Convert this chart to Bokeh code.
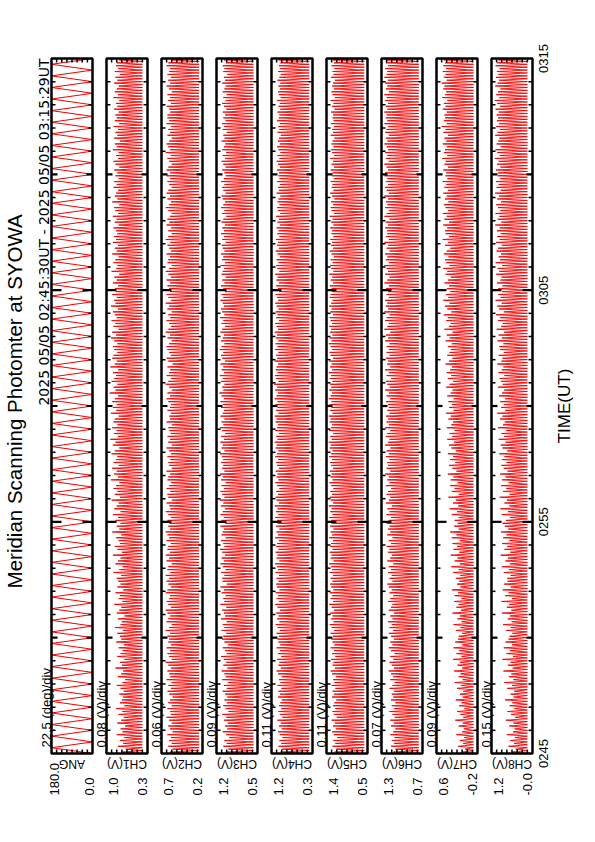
import numpy as np
from bokeh.plotting import figure
from bokeh.models import Range1d
from bokeh.core.properties import value
from bokeh.embed import file_html
from bokeh.resources import INLINE

# ---------------- data ----------------
TITLE = "Meridian Scanning Photomter at SYOWA"
SUBTITLE = "2025 05/05 02:45:30UT - 2025 05/05 03:15:29UT"
TIME_TICKS = [0, 10, 20, 30]                 # minutes after 02:45 UT
TIME_LABELS = ["0245", "0255", "0305", "0315"]
T_START = 0.0
T_END = 30.0

NAMES = ["ANG", "CH1(V)", "CH2(V)", "CH3(V)", "CH4(V)", "CH5(V)", "CH6(V)", "CH7(V)", "CH8(V)"]
VMIN = [0.0, 0.32, 0.22, 0.50, 0.30, 0.50, 0.70, -0.16, -0.04]
PER_DIV = [22.5, 0.08, 0.06, 0.09, 0.11, 0.11, 0.07, 0.09, 0.15]
DIV_LABELS = ["22.5 (deg)/div", "0.08 (V)/div", "0.06 (V)/div", "0.09 (V)/div", "0.11 (V)/div",
              "0.11 (V)/div", "0.07 (V)/div", "0.09 (V)/div", "0.15 (V)/div"]
TOP_LABELS = ["180.0", "1.0", "0.7", "1.2", "1.2", "1.4", "1.3", "0.6", "1.2"]
BOT_LABELS = ["0.0", "0.3", "0.2", "0.5", "0.3", "0.5", "0.7", "-0.2", "-0.0"]

# scan angle at the turning points of each half scan (deg)
ANG = [0, 180, 0, 180, 0, 180, 0, 180, 0, 180, 0, 180, 0, 180, 0, 180, 0, 180, 0, 180,
       0, 180, 0, 180, 0, 180, 0, 180, 0, 180, 0, 180, 0, 180, 0, 180, 0, 180, 0, 180,
       0, 180, 0, 180, 0, 180, 0, 180, 0, 180, 0, 180, 0, 180, 0, 180, 0, 180, 0, 180,
       0, 180, 0, 180, 0, 180, 0, 180, 0, 180, 0, 180, 0, 180, 0, 180, 0, 180, 0, 180,
       0, 180, 0, 180, 0, 180, 0, 180, 0, 180, 0, 180, 0, 180, 0, 180, 0, 180, 0, 180,
       0, 180, 0, 180, 0, 180, 0, 180, 0, 180, 0, 180, 0, 180, 0, 180, 0, 180, 0, 180,
       0]

# channel baselines (dark level between peaks) in 0.01 V, CH1..CH8
BASE = [40, 26, 57, 37, 57, 75, -9, 11]

# channel peak values in 0.01 V, in time order (first = 02:45)
CH1 = [72, 66, 78, 70, 75, 68, 80, 71, 74, 67, 79, 73, 69, 77, 71, 81, 68, 75, 72, 70,
       76, 69, 74, 80, 71, 67, 78, 73, 70, 82, 72, 75, 68, 79, 74, 71, 77, 69, 81, 73,
       75, 79, 70, 83, 74, 72, 78, 68, 80, 76, 73, 84, 71, 77, 75, 82, 70, 79, 74, 78,
       80, 73, 85, 76, 71, 82, 78, 74, 86, 72, 79, 83, 75, 77, 81, 73, 87, 76, 80, 74,
       82, 78, 86, 74, 84, 80, 77, 88, 75, 83, 79, 85, 81, 76, 89, 78, 84, 80, 87, 77,
       85, 81, 79, 88, 83, 76, 86, 82, 90, 78, 84, 80, 87, 79, 85, 83, 77, 89, 81, 86,
       80, 87, 83, 78, 91, 82, 85, 79, 88, 84, 81, 86, 78, 90, 83, 80, 87, 85, 79, 84,
       86, 79, 84, 89, 81, 87, 77, 85, 82, 88, 80, 83, 86, 78, 89, 82, 84, 80, 87, 81,
       83, 78, 86, 80, 84, 76, 88, 81, 79, 85, 82, 77, 87, 80, 83, 78, 86, 81, 84, 79,
       81, 85, 77, 83, 80, 86, 78, 82, 84, 76, 87, 79, 83, 81, 78, 85, 80, 84, 77, 82,
       79, 84, 76, 82, 85, 78, 81, 77, 86, 80, 83, 75, 84, 79, 82, 78, 85, 76, 83, 80,
       82, 77, 84, 79, 81, 76, 85, 78, 83, 80, 77, 84, 79, 82, 75, 83, 78, 81, 80, 76]
CH2 = [60, 57, 62, 58, 61, 59, 63, 57, 60, 62, 58, 61, 64, 59, 60, 63, 58, 62, 60, 57,
       61, 63, 59, 62, 58, 64, 60, 61, 63, 59, 62, 65, 58, 61, 63, 60, 64, 59, 62, 61,
       63, 60, 65, 61, 58, 64, 62, 60, 63, 65, 59, 62, 64, 61, 60, 65, 63, 59, 62, 64,
       61, 65, 60, 63, 62, 58, 64, 61, 65, 60, 63, 62, 59, 64, 61, 63, 65, 60, 62, 61,
       63, 59, 62, 65, 60, 61, 64, 58, 62, 63, 60, 64, 61, 59, 63, 62, 60, 64, 58, 61,
       62, 60, 63, 59, 61, 64, 58, 62, 60, 63, 59, 61, 62, 58, 64, 60, 61, 59, 63, 60,
       59, 62, 64, 60, 63, 58, 61, 65, 62, 59, 64, 61, 60, 63, 57, 62, 64, 59, 61, 63,
       64, 61, 58, 63, 60, 65, 62, 59, 61, 64, 60, 62, 58, 63, 61, 65, 59, 62, 64, 60,
       61, 63, 60, 64, 59, 62, 65, 61, 58, 63, 62, 60, 64, 59, 61, 63, 60, 65, 62, 58,
       62, 59, 64, 61, 63, 60, 58, 62, 65, 61, 59, 63, 60, 64, 62, 58, 61, 63, 60, 64,
       60, 64, 62, 58, 61, 63, 59, 65, 60, 62, 64, 61, 58, 63, 60, 62, 59, 64, 61, 63,
       63, 60, 61, 64, 59, 62, 60, 63, 58, 61, 64, 60, 62, 59, 63, 61, 60, 64, 62, 59]
CH3 = [106, 101, 110, 104, 108, 100, 105, 111, 103, 107, 102, 109, 105, 112, 101, 106, 110, 104, 108, 103,
       107, 111, 104, 109, 102, 112, 106, 108, 113, 103, 110, 105, 109, 114, 104, 107, 111, 102, 108, 112,
       110, 105, 113, 108, 111, 104, 114, 107, 109, 112, 105, 115, 108, 110, 106, 113, 109, 115, 104, 111,
       112, 108, 114, 106, 111, 115, 109, 113, 107, 112, 116, 108, 110, 114, 106, 113, 111, 109, 115, 107,
       113, 109, 115, 111, 107, 114, 110, 116, 108, 112, 115, 109, 113, 106, 114, 111, 116, 108, 112, 110,
       114, 110, 112, 116, 108, 113, 111, 115, 109, 114, 107, 112, 116, 110, 113, 108, 115, 111, 109, 114,
       111, 115, 109, 113, 117, 110, 112, 108, 114, 111, 116, 109, 113, 110, 115, 107, 112, 114, 110, 116,
       113, 108, 114, 111, 109, 115, 112, 107, 113, 110, 116, 108, 112, 114, 109, 111, 115, 110, 113, 107,
       110, 114, 108, 112, 106, 113, 111, 109, 115, 107, 112, 110, 114, 108, 111, 113, 106, 112, 109, 114,
       109, 112, 107, 113, 110, 105, 112, 108, 114, 110, 107, 111, 113, 106, 110, 112, 108, 114, 109, 106,
       108, 112, 106, 110, 113, 107, 111, 105, 112, 109, 107, 113, 108, 110, 104, 111, 109, 112, 106, 110,
       107, 111, 105, 109, 112, 106, 110, 104, 111, 108, 106, 112, 107, 109, 103, 110, 108, 111, 105, 109]
CH4 = [99, 95, 103, 97, 101, 94, 100, 104, 96, 102, 98, 105, 95, 100, 103, 97, 102, 99, 96, 104,
       100, 103, 97, 105, 99, 102, 96, 104, 107, 98, 103, 101, 106, 97, 104, 100, 107, 99, 103, 105,
       102, 107, 100, 105, 109, 101, 106, 103, 108, 100, 105, 110, 102, 107, 104, 109, 101, 106, 108, 103,
       107, 102, 109, 104, 106, 110, 101, 107, 105, 109, 103, 108, 106, 102, 110, 104, 107, 101, 108, 105,
       106, 110, 103, 108, 105, 111, 102, 107, 109, 104, 108, 101, 106, 110, 103, 107, 105, 109, 102, 106,
       108, 104, 110, 106, 103, 109, 107, 111, 105, 108, 102, 110, 106, 104, 109, 107, 111, 103, 108, 105,
       109, 105, 111, 107, 104, 110, 106, 112, 103, 108, 110, 105, 109, 107, 104, 111, 106, 108, 103, 110,
       105, 109, 103, 108, 106, 111, 104, 107, 110, 102, 108, 105, 109, 103, 107, 110, 104, 106, 109, 102,
       104, 108, 102, 107, 105, 110, 101, 106, 108, 103, 107, 100, 105, 109, 102, 106, 104, 108, 101, 105,
       103, 107, 100, 105, 102, 108, 99, 104, 106, 101, 105, 103, 99, 107, 102, 104, 100, 106, 101, 103,
       102, 106, 100, 104, 107, 101, 105, 99, 103, 106, 100, 104, 102, 98, 105, 101, 103, 100, 106, 102,
       101, 105, 99, 103, 100, 106, 98, 102, 104, 100, 103, 99, 105, 101, 98, 104, 100, 102, 99, 103]
CH5 = [121, 117, 125, 119, 123, 115, 122, 126, 118, 124, 120, 127, 116, 122, 125, 119, 124, 121, 117, 126,
       122, 125, 119, 127, 121, 124, 118, 126, 129, 120, 125, 123, 128, 119, 126, 122, 129, 121, 125, 127,
       124, 129, 122, 127, 131, 123, 128, 125, 130, 122, 127, 132, 124, 129, 126, 131, 123, 128, 130, 125,
       129, 124, 131, 126, 128, 132, 123, 129, 127, 131, 125, 130, 128, 124, 132, 126, 129, 123, 130, 127,
       128, 132, 125, 130, 127, 133, 124, 129, 131, 126, 130, 123, 128, 132, 125, 129, 127, 131, 124, 128,
       130, 126, 132, 128, 125, 131, 129, 133, 127, 130, 124, 132, 128, 126, 131, 129, 133, 125, 130, 127,
       131, 127, 133, 129, 126, 132, 128, 130, 125, 131, 128, 133, 126, 130, 127, 132, 124, 129, 131, 126,
       129, 133, 127, 131, 125, 130, 128, 132, 126, 129, 131, 124, 130, 127, 132, 128, 125, 131, 129, 126,
       127, 131, 124, 129, 126, 132, 123, 128, 130, 125, 129, 122, 127, 131, 124, 128, 126, 130, 123, 127,
       126, 130, 123, 128, 125, 131, 122, 127, 129, 124, 128, 121, 126, 130, 123, 127, 125, 129, 122, 126,
       125, 129, 122, 127, 124, 130, 121, 126, 128, 123, 127, 125, 121, 129, 124, 126, 122, 128, 123, 125,
       124, 128, 121, 126, 123, 129, 120, 125, 127, 122, 126, 124, 120, 128, 123, 125, 121, 127, 122, 124]
CH6 = [110, 107, 113, 109, 112, 108, 114, 110, 107, 113, 109, 114, 108, 111, 115, 109, 112, 107, 113, 110,
       112, 109, 115, 111, 108, 114, 110, 113, 116, 109, 112, 115, 110, 114, 108, 113, 116, 111, 114, 109,
       113, 116, 110, 115, 112, 117, 111, 114, 109, 116, 113, 111, 117, 114, 110, 115, 112, 116, 118, 111,
       115, 112, 117, 113, 116, 110, 118, 114, 112, 117, 115, 119, 113, 116, 111, 118, 114, 117, 115, 119,
       116, 113, 119, 115, 118, 112, 120, 116, 114, 119, 117, 113, 120, 115, 118, 116, 121, 114, 119, 117,
       118, 115, 120, 116, 119, 114, 121, 117, 115, 120, 118, 114, 121, 116, 119, 117, 120, 115, 118, 116,
       117, 120, 114, 119, 116, 121, 115, 118, 120, 113, 119, 116, 121, 114, 118, 117, 120, 115, 119, 116,
       119, 115, 121, 117, 120, 114, 122, 118, 116, 121, 119, 115, 122, 117, 120, 118, 121, 116, 119, 117,
       120, 116, 122, 118, 115, 121, 117, 119, 122, 116, 120, 118, 121, 115, 119, 117, 122, 116, 120, 118,
       118, 121, 117, 120, 115, 122, 119, 116, 121, 118, 120, 117, 122, 116, 119, 121, 117, 120, 118, 122,
       121, 117, 119, 122, 116, 120, 118, 121, 117, 119, 122, 118, 120, 116, 121, 119, 117, 122, 118, 120,
       119, 122, 118, 120, 117, 121, 119, 122, 116, 120, 118, 121, 117, 122, 119, 118, 121, 117, 120, 119]
CH7 = [12, 6, 18, 9, 15, 7, 21, 11, 8, 17, 10, 23, 9, 14, 20, 7, 16, 12, 22, 10,
       15, 9, 20, 13, 24, 10, 17, 14, 25, 11, 19, 15, 27, 12, 21, 16, 26, 11, 23, 18,
       17, 11, 22, 14, 26, 12, 19, 15, 28, 13, 21, 17, 25, 12, 24, 18, 29, 14, 20, 16,
       22, 14, 27, 17, 30, 15, 24, 19, 31, 16, 26, 20, 28, 15, 29, 21, 32, 17, 25, 19,
       24, 17, 29, 20, 33, 18, 27, 22, 35, 17, 29, 24, 32, 19, 31, 26, 36, 21, 28, 34,
       23, 32, 27, 36, 22, 30, 34, 25, 37, 28, 33, 24, 38, 30, 27, 35, 31, 39, 26, 34,
       29, 35, 26, 37, 31, 28, 39, 33, 27, 36, 30, 38, 32, 29, 40, 34, 28, 37, 33, 31,
       36, 29, 40, 33, 38, 28, 42, 34, 31, 39, 36, 43, 30, 37, 41, 33, 44, 35, 39, 32,
       38, 34, 42, 36, 31, 40, 37, 44, 33, 39, 41, 35, 43, 38, 32, 41, 36, 45, 34, 40,
       41, 37, 44, 34, 42, 38, 45, 36, 40, 43, 35, 41, 38, 44, 36, 42, 39, 45, 37, 40,
       39, 44, 36, 42, 40, 46, 37, 43, 41, 38, 45, 39, 42, 36, 44, 40, 47, 38, 43, 41,
       42, 38, 45, 40, 43, 37, 46, 41, 39, 44, 42, 47, 38, 43, 40, 45, 39, 44, 41, 43]
CH8 = [55, 45, 66, 50, 61, 47, 71, 53, 48, 64, 52, 74, 47, 59, 69, 49, 63, 55, 76, 51,
       60, 50, 70, 56, 78, 52, 65, 58, 81, 54, 68, 60, 84, 53, 72, 62, 80, 56, 75, 66,
       63, 55, 73, 60, 82, 57, 68, 62, 85, 58, 71, 64, 87, 56, 76, 66, 83, 60, 79, 69,
       70, 60, 80, 65, 86, 62, 75, 68, 89, 61, 78, 70, 85, 64, 82, 72, 88, 67, 77, 84,
       74, 62, 86, 68, 90, 64, 78, 71, 92, 63, 82, 73, 88, 66, 85, 75, 91, 69, 80, 87,
       72, 86, 78, 93, 70, 84, 89, 75, 95, 79, 87, 73, 97, 82, 77, 91, 84, 99, 76, 88,
       80, 90, 76, 94, 85, 79, 97, 83, 88, 92, 78, 96, 86, 81, 99, 87, 84, 95, 80, 91,
       93, 81, 98, 86, 95, 79, 101, 88, 83, 97, 91, 103, 80, 94, 99, 86, 104, 89, 96, 85,
       96, 84, 100, 90, 87, 102, 93, 98, 85, 104, 91, 95, 88, 101, 97, 86, 103, 92, 99, 89,
       100, 92, 105, 87, 98, 93, 104, 90, 97, 102, 88, 99, 94, 105, 89, 101, 95, 103, 91, 98,
       97, 103, 90, 100, 95, 106, 92, 99, 104, 89, 101, 96, 93, 105, 98, 91, 102, 94, 100, 97,
       101, 95, 104, 91, 99, 106, 93, 102, 97, 90, 105, 98, 94, 103, 96, 100, 92, 104, 99, 95]
CHANNELS = [CH1, CH2, CH3, CH4, CH5, CH6, CH7, CH8]


def spikes(base, peaks):
    out = [base]
    for v in peaks:
        out += [v, base]
    return out


# ---------------- layout ----------------
W, H = 579, 826
PPM = 695 / 30.0             # pixels per minute
Y_BOTTOM_PX, Y_TOP_PX = 73, 58
Y0 = -Y_BOTTOM_PX / PPM
Y1 = 30 + Y_TOP_PX / PPM
PW = 41                      # panel frame width (px)
LEFT = [51 + 55 * i for i in range(9)]
FONT = value("Liberation Sans")
WIDE = value("DejaVu Sans")
TOP_DX = [3, 7, 7, 7, 7, 7, 7, 7, 7]
BOT_DX = [3, 5, 5, 5, 5, 5, 5, 5, 5]
Y_DIVLAB = 6 / PPM
Y_VALLAB = -42 / PPM
Y_NAME = -10 / PPM

p = figure(width=W, height=H, output_backend="svg", toolbar_location=None,
           x_range=Range1d(0, W), y_range=Range1d(Y0, Y1),
           x_axis_location=None, y_axis_location=None, min_border=0)
p.title_location = None
p.outline_line_color = None
p.grid.visible = False
p.background_fill_color = "white"
p.border_fill_color = "white"

for i in range(9):
    vmin = VMIN[i]
    span = 8 * PER_DIV[i]
    vmax = vmin + span
    name = f"p{i}"
    left = LEFT[i]
    p.extra_x_ranges[name] = Range1d(vmax + left / PW * span, vmax - (W - left) / PW * span)

    if i == 0:
        vals = ANG
        lw = 1.0
    else:
        vals = [v / 100.0 for v in spikes(BASE[i - 1], CHANNELS[i - 1])]
        lw = 0.9
    ts = np.linspace(T_START, T_END, len(vals))
    p.line(vals, ts, x_range_name=name, line_color="#f00000", line_width=lw)

    # frame
    p.quad(left=[vmax], right=[vmin], bottom=[0], top=[30], x_range_name=name,
           fill_color=None, line_color="black", line_width=2.5)

    # value-division ticks on top / bottom edges
    dticks = [vmax - j * PER_DIV[i] for j in range(1, 8)]
    tl = 4 / PPM
    p.segment(x0=dticks, y0=[30] * 7, x1=dticks, y1=[30 - tl] * 7, x_range_name=name,
              line_color="black", line_width=1.5)
    p.segment(x0=dticks, y0=[0] * 7, x1=dticks, y1=[tl] * 7, x_range_name=name,
              line_color="black", line_width=1.5)

    # time ticks on left / right edges
    mins = list(range(1, 30))
    lens = [10 if m % 10 == 0 else (6 if m % 5 == 0 else 4) for m in mins]
    widths = [2.2 if l >= 6 else 1.5 for l in lens]
    p.segment(x0=[left] * len(mins), y0=mins, x1=[left + l for l in lens], y1=mins,
              line_color="black", line_width=widths)
    p.segment(x0=[left + PW] * len(mins), y0=mins, x1=[left + PW - l for l in lens], y1=mins,
              line_color="black", line_width=widths)

    # texts
    p.text(x=[left - 5], y=[Y_DIVLAB], text=[DIV_LABELS[i]], angle=np.pi / 2,
           text_align="left", text_baseline="middle", text_font=FONT,
           text_font_size="13px", text_color="black")
    p.text(x=[left + TOP_DX[i]], y=[Y_VALLAB], text=[TOP_LABELS[i]], angle=np.pi / 2,
           text_align="left", text_baseline="middle", text_font=FONT,
           text_font_size="13px", text_color="black")
    p.text(x=[left + PW - BOT_DX[i]], y=[Y_VALLAB], text=[BOT_LABELS[i]], angle=np.pi / 2,
           text_align="left", text_baseline="middle", text_font=FONT,
           text_font_size="13px", text_color="black")
    p.text(x=[left + PW / 2], y=[Y_NAME], text=[NAMES[i]], angle=np.pi,
           text_align="center", text_baseline="middle", text_font=FONT,
           text_font_size="12px", text_color="black")

# page texts
p.text(x=[14], y=[15.2], text=[TITLE], angle=np.pi / 2, text_align="center",
       text_baseline="middle", text_font=FONT, text_font_size="20.5px", text_color="black")
p.text(x=[43], y=[30], text=[SUBTITLE], angle=np.pi / 2, text_align="right",
       text_baseline="middle", text_font=WIDE, text_font_size="14px", text_color="black")
p.text(x=[543] * 4, y=TIME_TICKS, text=TIME_LABELS, angle=np.pi / 2, text_align="center",
       text_baseline="middle", text_font=FONT, text_font_size="13px", text_color="black")
p.text(x=[564], y=[15], text=["TIME(UT)"], angle=np.pi / 2, text_align="center",
       text_baseline="middle", text_font=FONT, text_font_size="17px", text_color="black")

open("out.html", "w").write(file_html(p, INLINE))
